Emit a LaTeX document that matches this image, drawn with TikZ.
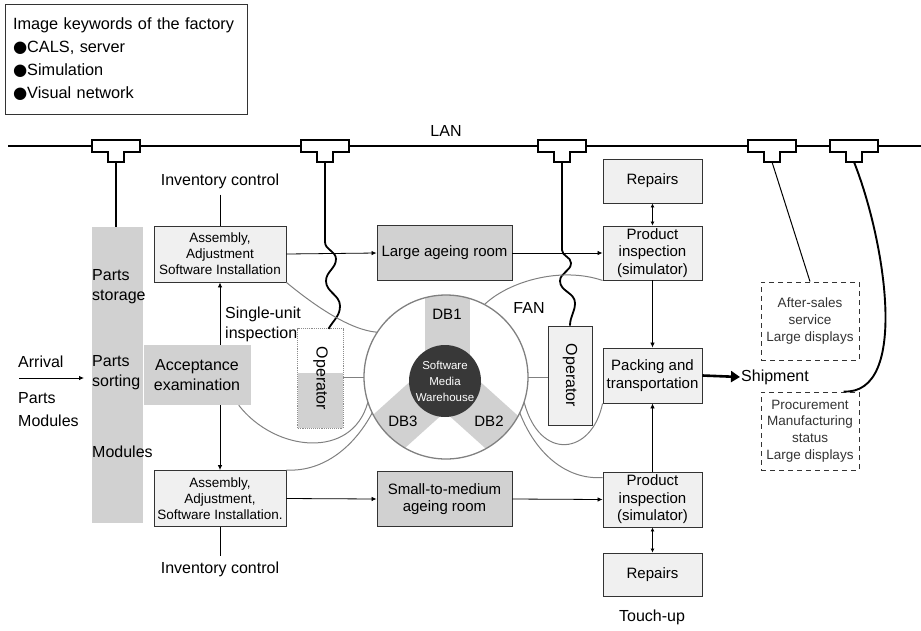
\documentclass[tikz,border=0pt]{standalone}
\usepackage{fontspec}
\setmainfont{Liberation Sans}
\newfontfamily\symfont{DejaVu Sans}
\usetikzlibrary{arrows.meta}
\tikzstyle{lbl} = [inner sep=1pt, align=left, font=\fontsize{16}{20}\selectfont]
\tikzstyle{station} = [draw=black!80, line width=0.9pt, rectangle, align=center, inner sep=2pt,
   font=\fontsize{15}{17.5}\selectfont]
\tikzstyle{shadefill} = [fill=black!18]
\tikzstyle{lightfill} = [fill=black!6]
\tikzstyle{asmbox} = [station, lightfill, minimum width=132pt, minimum height=56pt,
   font=\fontsize{13.5}{16}\selectfont]
\tikzstyle{roombox} = [station, shadefill, minimum width=135pt, minimum height=55pt]
\tikzstyle{postbox} = [station, lightfill, minimum width=99pt]
\tikzstyle{dispbox} = [draw=black!80, dash pattern=on 5pt off 4pt, line width=1pt, align=center,
   minimum width=98pt, minimum height=78pt, text=black!80, font=\fontsize{13.5}{16.7}\selectfont]
\tikzstyle{flowarrow} = [-{Latex[length=5pt,width=4.5pt]}, line width=0.8pt]
\tikzstyle{botharrow} = [{Latex[length=4pt,width=4pt]}-{Latex[length=4pt,width=4pt]}, line width=0.8pt]
\tikzstyle{fanline} = [draw=black!50, line width=1pt]
\tikzstyle{lanline} = [line width=2.4pt]
\tikzstyle{tapbox} = [fill=white, draw, line width=1.1pt]
\newcommand{\blob}{{\symfont ●}}

\begin{document}
\begin{tikzpicture}[x=1pt, y=-1pt]
  \useasboundingbox (0,0) rectangle (921,630);

  % keywords
  \node[draw=black!80, line width=0.8pt, minimum width=242pt, minimum height=110pt, text width=226pt,
    inner sep=8pt, align=left, font=\fontsize{16.3}{23}\selectfont] (kw) at (126,59)
    {Image keywords of the factory\\\blob CALS, server\\\blob Simulation\\\blob Visual network};

  % LAN with taps
  \coordinate (lanL) at (8,146);
  \coordinate (lanR) at (921,146);
  \draw[lanline] (lanL) -- (lanR);
  \node[lbl] (lan) at (446,131) {LAN};
  \foreach \x/\n in {116/tapA, 325/tapB, 562/tapC, 772/tapD, 854/tapE}{
    \draw[tapbox] (\x-24,140) -- (\x+24,140) -- (\x+24,152) -- (\x+8,152) -- (\x+8,162)
      -- (\x-8,162) -- (\x-8,152) -- (\x-24,152) -- cycle;
    \coordinate (\n) at (\x,162);
  }

  % parts area
  \node[shadefill, minimum width=51pt, minimum height=296pt, inner sep=0] (parts) at (117.5,375) {};
  \node[shadefill, minimum width=107pt, minimum height=60pt, inner sep=0, align=center,
    font=\fontsize{16}{20}\selectfont] (accept) at (197,375) {Acceptance\\examination};
  \node[lbl, anchor=west] (storage) at (91,287) {Parts\\storage};
  \node[lbl, anchor=west] (sorting) at (91,373) {Parts\\sorting};
  \node[lbl, anchor=west] (modules) at (91,452) {Modules};
  \draw[line width=1.1pt] (tapA) -- (parts.north -| tapA);

  % arrival
  \node[lbl, anchor=west] (arrival) at (17,362) {Arrival};
  \node[lbl, anchor=west] (inParts) at (17,398) {Parts};
  \node[lbl, anchor=west] (inModules) at (17,421) {Modules};
  \coordinate (arrS) at (19,378);
  \coordinate (arrE) at (84,378);
  \draw[flowarrow] (arrS) -- (arrE);

  % assembly
  \node[asmbox] (asmU) at (220,254) {Assembly,\\Adjustment\\Software Installation};
  \node[asmbox] (asmL) at (220,498.5) {Assembly,\\Adjustment,\\Software Installation.};
  \node[lbl] (invU) at (220,181) {Inventory control};
  \node[lbl] (invL) at (220,569) {Inventory control};
  \draw[line width=0.8pt] ([yshift=-5pt]invU.south) -- (asmU.north);
  \draw[line width=0.8pt] (asmL.south) -- ([yshift=4pt]invL.north);
  \node[lbl, anchor=west] (single) at (224,324) {Single-unit\\inspection};
  \draw[flowarrow] (asmU.south |- accept.north) -- (asmU.south);
  \draw[flowarrow] (asmL.north |- accept.south) -- (asmL.north);

  % ageing rooms
  \node[roombox] (ageU) at (444.5,253) {Large ageing room};
  \node[roombox] (ageL) at (444.5,499) {Small-to-medium\\ageing room};

  % inspection column
  \node[postbox, minimum height=44pt] (repU) at (652.5,181) {Repairs};
  \node[postbox, minimum height=54pt] (insU) at (652.5,253) {Product\\inspection\\(simulator)};
  \node[postbox, minimum height=55pt] (pack) at (652.5,375.5) {Packing and\\transportation};
  \node[postbox, minimum height=55pt] (insL) at (652.5,499.5) {Product\\inspection\\(simulator)};
  \node[postbox, minimum height=43pt] (repL) at (652.5,574.5) {Repairs};
  \node[lbl] (touch) at (652,617) {Touch-up};

  \draw[flowarrow] (asmU.east) -- (ageU.west);
  \draw[flowarrow] (ageU.east) -- (insU.west);
  \draw[flowarrow] (asmL.east) -- (ageL.west);
  \draw[flowarrow] (ageL.east) -- (insL.west);
  \draw[flowarrow] (insU.south) -- (pack.north);
  \draw[flowarrow] (insL.north) -- (pack.south);
  \draw[botharrow] (repU.south) -- (insU.north);
  \draw[botharrow] (insL.south) -- (repL.north);

  % shipment and displays
  \node[lbl, anchor=west] (ship) at (740,377) {Shipment};
  \draw[line width=2.6pt, -{Triangle[length=9pt,width=11pt]}] (pack.east) -- (ship.west);
  \node[dispbox] (after) at (810,321) {After-sales\\service\\Large displays};
  \node[dispbox] (proc) at (810,431) {Procurement\\Manufacturing\\status\\Large displays};
  \draw[line width=1pt] (tapD) -- (after.north);
  \draw[line width=1.9pt] (tapE) .. controls (885,240) and (910,395) .. ([xshift=-16pt]proc.north east);

  % database ring
  \node[circle, minimum size=164pt, inner sep=0] (db) at (446,377) {};
  \begin{scope}
    \clip (db.center) circle (82pt);
    \fill[shadefill] (425,290) rectangle (470,381);
    \fill[shadefill, rotate around={48:(445,381)}] (422,381) rectangle (468,470);
    \fill[shadefill, rotate around={-48:(445,381)}] (422,381) rectangle (468,470);
  \end{scope}
  \draw[fanline, line width=1.3pt] (db.center) circle (82pt);
  \node[circle, fill=black!78, minimum size=72pt, inner sep=0, text=white, align=center,
    font=\fontsize{11.5}{16}\selectfont] (smw) at (445,381) {Software\\Media\\Warehouse};
  \node[lbl, font=\fontsize{15}{17}\selectfont] (db1) at (447,314) {DB1};
  \node[lbl, font=\fontsize{15}{17}\selectfont] (db3) at (403,421) {DB3};
  \node[lbl, font=\fontsize{15}{17}\selectfont] (db2) at (489,421) {DB2};
  \node[lbl] (fan) at (529,308) {FAN};

  % operators
  \node[minimum width=45pt, minimum height=99pt, inner sep=0] (opL) at (320.5,378.5) {};
  \fill[shadefill] ([yshift=6pt]opL.west) rectangle (opL.south east);
  \draw[draw=black!45, densely dotted, line width=0.9pt] (opL.south west) rectangle (opL.north east);
  \node[lbl, rotate=-90] (opLtxt) at (opL.center) {Operator};
  \node[draw=black!80, line width=0.9pt, lightfill, minimum width=44pt, minimum height=99pt] (opR) at (570,375.5) {};
  \node[lbl, rotate=-90] (opRtxt) at (opR.center) {Operator};
  \draw[fanline, line width=0.8pt] (opL.east |- db.west) -- (db.west);
  \draw[fanline, line width=0.8pt] (db.east) -- (opR.west |- db.east);

  % wired operators
  \draw[line width=1.8pt] (tapB) -- (325,242) to[out=-90,in=90] (336,259) to[out=-90,in=90] (326,281)
    to[out=-90,in=90] (340,306) to[out=-90,in=60] ([xshift=8pt]opL.north);
  \draw[line width=1.8pt] (tapC) -- (562,250) to[out=-90,in=90] (571,263) to[out=-90,in=90] (560,281)
    to[out=-90,in=90] (575,303) to[out=-90,in=90] (opR.north);

  % FAN links to the databases
  \draw[fanline] (asmU.south east) .. controls (315,306) and (350,330) .. (db.147);
  \draw[fanline] (insU.south west) .. controls (560,266) and (508,282) .. (db.62);
  \draw[fanline] ([xshift=-12pt]accept.south east) .. controls (275,452) and (352,460) .. (db.198);
  \draw[fanline] (asmL.north east) .. controls (325,472) and (355,445) .. (db.206);
  \draw[fanline] (db.-18) .. controls (540,462) and (592,455) .. (pack.south west);
  \draw[fanline] (db.-26) .. controls (535,452) and (565,480) .. ([yshift=-6pt]insL.north west);
\end{tikzpicture}
\end{document}
